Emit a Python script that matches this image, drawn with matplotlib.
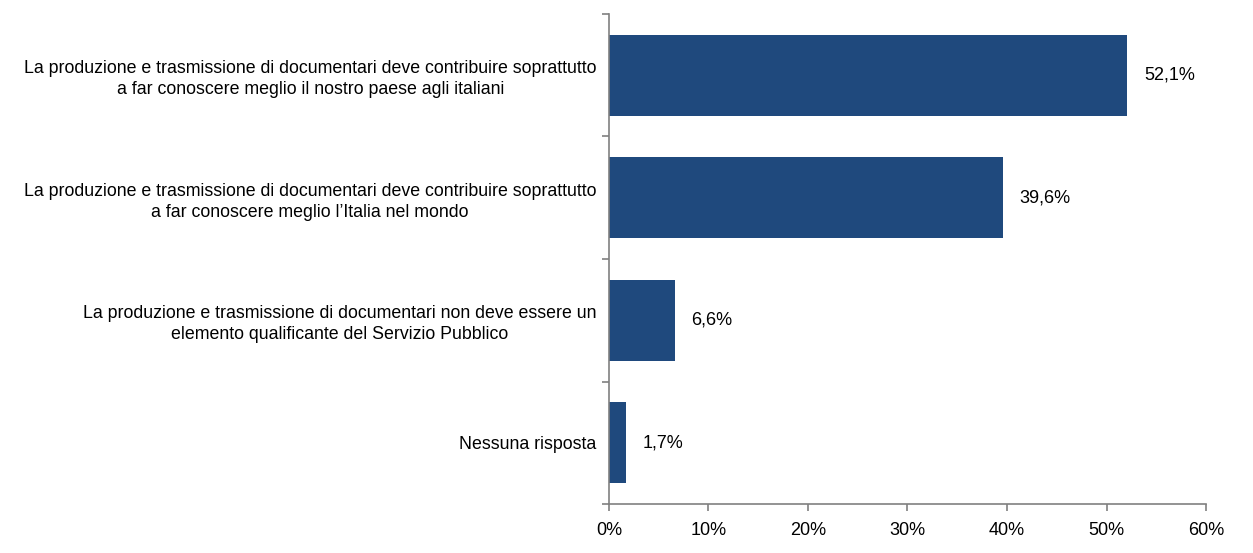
import matplotlib.pyplot as plt
from matplotlib.ticker import FixedLocator, PercentFormatter

categories = [
    "La produzione e trasmissione di documentari deve contribuire soprattutto\na far conoscere meglio il nostro paese agli italiani",
    "La produzione e trasmissione di documentari deve contribuire soprattutto\na far conoscere meglio l\u2019Italia nel mondo",
    "La produzione e trasmissione di documentari non deve essere un\nelemento qualificante del Servizio Pubblico",
    "Nessuna risposta",
]
values = [52.1, 39.6, 6.6, 1.7]
value_labels = ["52,1%", "39,6%", "6,6%", "1,7%"]

plt.rcParams['font.family'] = ['Liberation Sans', 'DejaVu Sans']

fig = plt.figure(figsize=(12.53, 5.53), dpi=100)
ax = fig.add_axes([0.486, 0.0886, 0.9625 - 0.486, 0.9747 - 0.0886])

pos = list(range(len(categories)))
ax.barh(pos, values, height=0.66, color='#1F497D')
ax.set_ylim(len(categories) - 0.5, -0.5)
ax.set_xlim(0, 60)

for p, v, lab in zip(pos, values, value_labels):
    ax.annotate(lab, (v, p), xytext=(12, 0), textcoords='offset points',
                va='center', ha='left', fontsize=13, color='#000000')

ax.set_yticks(pos)
ax.set_yticklabels(categories, fontsize=12.8, multialignment='center', linespacing=1.3)
ax.yaxis.set_minor_locator(FixedLocator([i - 0.5 for i in range(len(categories) + 1)]))
ax.tick_params(axis='y', which='major', length=0, pad=9)
ax.tick_params(axis='y', which='minor', length=5, color='#808080', width=1.2)

ax.set_xticks(range(0, 61, 10))
ax.xaxis.set_major_formatter(PercentFormatter(decimals=0))
ax.tick_params(axis='x', length=5, color='#808080', width=1.2, labelsize=13, pad=8)

for side in ['top', 'right']:
    ax.spines[side].set_visible(False)
for side in ['left', 'bottom']:
    ax.spines[side].set_color('#808080')
    ax.spines[side].set_linewidth(1.2)

fig.savefig('out.png', dpi=100)
